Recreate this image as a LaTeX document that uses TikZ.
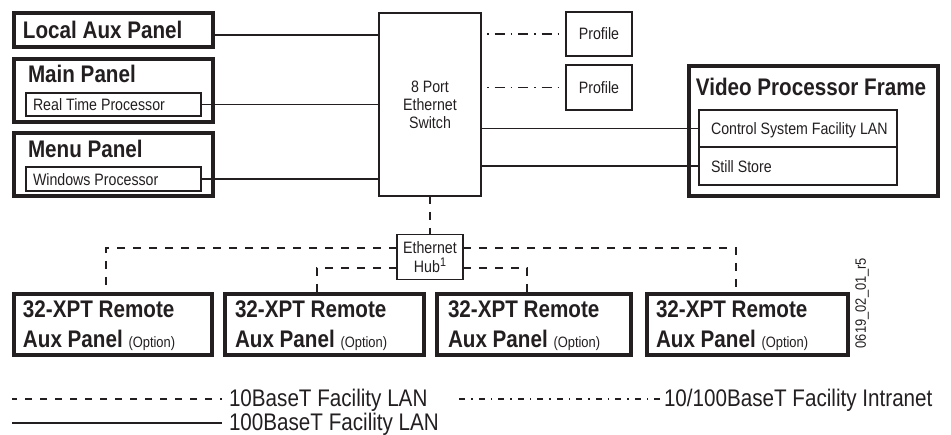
\documentclass[tikz,border=0pt]{standalone}
\usepackage{fontspec}
\setmainfont[FakeStretch=0.86]{Liberation Sans}
\definecolor{ink}{HTML}{231F20}
\begin{document}
\begin{tikzpicture}[x=1pt,y=-1pt,
  every node/.style={text=ink, inner sep=0pt, outer sep=0pt},
  thickbox/.style={draw=ink, line width=4pt, anchor=north west},
  thinbox/.style={draw=ink, line width=1.8pt, anchor=north west},
  plainbox/.style={draw=ink, line width=1.5pt, anchor=north west, font=\fontsize{16.5}{18}\selectfont},
  title/.style={font=\fontsize{24}{24}\selectfont\bfseries, anchor=base west},
  lbl/.style={font=\fontsize{16.5}{18}\selectfont, anchor=base west},
  legtxt/.style={font=\fontsize{24}{24}\selectfont, anchor=base west},
  wire/.style={draw=ink, line width=1.8pt},
  lan/.style={wire, dash pattern=on 8pt off 8pt},
  legdash/.style={wire, dash pattern=on 7pt off 8pt, dash phase=5pt},
  intra/.style={wire, dash pattern=on 1.5pt off 6pt on 10pt off 6pt}]

\path[use as bounding box] (0,0) rectangle (951,435);

% left panels
\node[thickbox, minimum width=199pt, minimum height=34pt] (la) at (14,13) {};
\node[title] (latxt) at (23,39) {Local Aux Panel};
\node[thickbox, minimum width=199pt, minimum height=63pt] (mp) at (14,59) {};
\node[title] (mptxt) at (28,83) {Main Panel};
\node[thinbox, minimum width=175pt, minimum height=23pt] (rtp) at (26,93) {};
\node[lbl] (rtptxt) at (33,111) {Real Time Processor};
\node[thickbox, minimum width=199pt, minimum height=63pt] (mn) at (14,133) {};
\node[title] (mntxt) at (28,158) {Menu Panel};
\node[thinbox, minimum width=175pt, minimum height=24pt] (wp) at (26,167) {};
\node[lbl] (wptxt) at (33,186) {Windows Processor};

% switch
\node[plainbox, minimum width=102pt, minimum height=183pt] (sw) at (379,13) {};
\node[lbl, anchor=base] (sw1) at (430,93) {8 Port};
\node[lbl, anchor=base] (sw2) at (430,111) {Ethernet};
\node[lbl, anchor=base] (sw3) at (430,129) {Switch};

% profiles
\node[plainbox, minimum width=66pt, minimum height=44pt] (p1) at (566,12) {Profile};
\node[plainbox, minimum width=66pt, minimum height=45pt] (p2) at (566,65) {Profile};

% video processor frame
\node[thickbox, minimum width=249pt, minimum height=130pt] (vpf) at (689,66) {};
\node[title, anchor=base] (vpftxt) at (811,96) {Video Processor Frame};
\node[thinbox, minimum width=198pt, minimum height=37pt] (csf) at (699,110) {};
\node[lbl] (csftxt) at (711,135) {Control System Facility LAN};
\node[thinbox, minimum width=198pt, minimum height=38pt] (ss) at (699,147) {};
\node[lbl] (sstxt) at (711,173) {Still Store};

% hub
\node[plainbox, minimum width=66pt, minimum height=45pt] (hub) at (397,234.5) {};
\node[lbl, anchor=base] (hub1) at (430,254) {Ethernet};
\node[lbl, anchor=base] (hub2) at (430,273) {Hub\raisebox{0.42em}{\fontsize{12.5}{12.5}\selectfont 1}};

% remote aux panels
\node[thickbox, minimum width=198pt, minimum height=61pt] (b1) at (14,294) {};
\node[thickbox, minimum width=199pt, minimum height=61pt] (b2) at (225,294) {};
\node[thickbox, minimum width=194pt, minimum height=61pt] (b3) at (437,294) {};
\node[thickbox, minimum width=201pt, minimum height=61pt] (b4) at (647,294) {};
\foreach \n/\x in {b1/23,b2/235,b3/448,b4/656}{
  \node[title] (\n t1) at (\x,318) {32-XPT Remote};
  \node[title] (\n t2) at (\x,348) {Aux Panel {\fontsize{15}{15}\selectfont\mdseries (Option)}};
}
\node[font=\fontsize{15}{15}\selectfont, rotate=90] (code) at (862,303) {0619\_02\_01\_r5};

% connectors
\coordinate (y35) at (0,35);
\coordinate (hu) at (0,248);
\coordinate (hl) at (0,268);
\draw[wire] (la.east |- y35) -- (sw.west |- y35);
\draw[wire] (rtp.east) -- (sw.west |- rtp.east);
\draw[wire] (wp.east) -- (sw.west |- wp.east);
\draw[intra, shorten <=6pt] (sw.east |- p1.west) -- (p1.west);
\draw[intra, shorten <=6pt] (sw.east |- p2.west) -- (p2.west);
\draw[wire] (sw.east |- csf.west) -- (csf.west);
\draw[wire] (sw.east |- ss.west) -- (ss.west);
\draw[lan] (sw.south) -- (hub.north);
\draw[lan] (hub.west |- hu) -| ([xshift=-7pt]b1.north);
\draw[lan] (hub.west |- hl) -| ([xshift=-7.5pt]b2.north);
\draw[lan] (hub.east |- hl) -| ([xshift=-7pt]b3.north);
\draw[lan] (hub.east |- hu) -| ([xshift=-11.5pt]b4.north);

% legend
\coordinate (l1a) at (12,399); \coordinate (l1b) at (222,399);
\coordinate (l2a) at (453,399); \coordinate (l2b) at (660,399);
\coordinate (l3a) at (12,423); \coordinate (l3b) at (222,423);
\draw[legdash] (l1b) -- (l1a);
\draw[wire, dash pattern=on 6pt off 6pt on 1.5pt off 6pt] (l2b) -- (l2a);
\draw[wire] (l3a) -- (l3b);
\node[legtxt] (lt1) at (229,407) {10BaseT Facility LAN};
\node[legtxt] (lt2) at (664,407) {10/100BaseT Facility Intranet};
\node[legtxt] (lt3) at (229,431) {100BaseT Facility LAN};
\end{tikzpicture}
\end{document}
